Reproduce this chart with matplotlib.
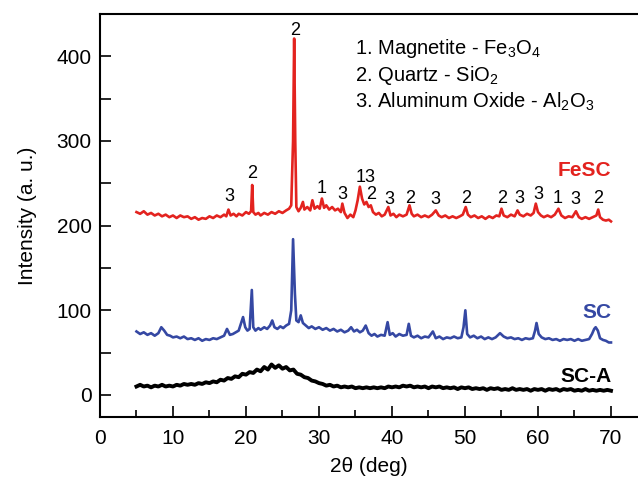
import numpy as np
import matplotlib
matplotlib.use('Agg')
from matplotlib import pyplot as plt
from matplotlib.ticker import MultipleLocator

plt.rcParams['font.family'] = ['Liberation Sans', 'DejaVu Sans']
plt.rcParams['mathtext.fontset'] = 'custom'
plt.rcParams['mathtext.rm'] = 'Liberation Sans'
plt.rcParams['mathtext.it'] = 'Liberation Sans'

## FeSC pattern (red)
fesc_x = [5.0, 5.5, 6.0, 6.5, 7.0, 7.5, 8.0, 8.5, 9.0, 9.5, 10.0, 10.5, 11.0, 11.5, 12.0, 12.5,
          13.0, 13.5, 14.0, 14.5, 15.0, 15.5, 16.0, 16.5, 17.0, 17.3, 17.6, 17.9, 18.3, 18.7, 19.0,
          19.5, 20.0, 20.4, 20.7, 20.85, 21.0, 21.3, 21.7, 22.0, 22.5, 23.0, 23.5, 24.0, 24.5, 25.0,
          25.5, 25.9, 26.2, 26.45, 26.6, 26.75, 26.9, 27.2, 27.5, 27.8, 28.0, 28.4, 28.8, 29.1, 29.4,
          29.8, 30.1, 30.4, 30.7, 31.0, 31.4, 31.8, 32.2, 32.6, 33.0, 33.2, 33.5, 33.9, 34.3, 34.7,
          35.0, 35.3, 35.6, 35.9, 36.2, 36.5, 36.8, 37.1, 37.4, 37.8, 38.2, 38.6, 39.0, 39.5, 39.8,
          40.2, 40.6, 41.0, 41.5, 42.0, 42.4, 42.7, 43.0, 43.5, 44.0, 44.5, 45.0, 45.5, 46.0, 46.4,
          46.8, 47.3, 47.8, 48.3, 48.8, 49.3, 49.7, 50.1, 50.4, 50.8, 51.3, 51.8, 52.3, 52.8, 53.3,
          53.8, 54.3, 54.7, 55.0, 55.3, 55.8, 56.3, 56.8, 57.2, 57.5, 58.0, 58.5, 59.0, 59.4, 59.7,
          60.0, 60.4, 60.8, 61.3, 61.8, 62.3, 62.8, 63.2, 63.7, 64.2, 64.7, 65.2, 65.6, 66.0, 66.5,
          67.0, 67.5, 68.0, 68.25, 68.5, 68.9, 69.3, 69.7, 70.0]
fesc_y = [216, 214, 217, 213, 215, 212, 214, 211, 213, 210, 212, 209, 212, 210, 211, 208,
          210, 207, 209, 208, 211, 209, 212, 210, 213, 211, 219, 212, 214, 211, 214,
          212, 216, 214, 217, 248, 216, 213, 215, 212, 215, 213, 216, 214, 217, 215,
          218, 220, 224, 300, 421, 300, 222, 217, 221, 228, 219, 222, 218, 230, 220,
          223, 220, 232, 221, 224, 219, 222, 218, 220, 216, 226, 215, 209, 213, 210,
          218, 230, 246, 232, 225, 228, 222, 224, 216, 213, 215, 211, 213, 222, 212,
          214, 210, 213, 211, 213, 224, 214, 211, 213, 210, 212, 210, 213, 218, 212,
          210, 212, 209, 211, 209, 211, 213, 222, 213, 210, 212, 209, 211, 208, 211,
          209, 212, 211, 220, 212, 210, 213, 211, 218, 213, 211, 214, 212, 215, 226,
          216, 212, 210, 212, 210, 213, 220, 212, 209, 211, 210, 217, 210, 208, 210,
          208, 210, 212, 219, 210, 207, 206, 207, 205]

## SC pattern (blue)
sc_x = [5.0, 5.5, 6.0, 6.5, 7.0, 7.5, 8.0, 8.4, 8.8, 9.2, 9.6, 10.0, 10.5, 11.0, 11.5, 12.0,
        12.5, 13.0, 13.5, 14.0, 14.5, 15.0, 15.5, 16.0, 16.5, 17.0, 17.4, 17.8, 18.2, 18.6, 19.0,
        19.3, 19.6, 19.9, 20.2, 20.5, 20.8, 21.0, 21.3, 21.7, 22.0, 22.5, 22.9, 23.3, 23.6, 23.9,
        24.3, 24.7, 25.1, 25.5, 25.9, 26.2, 26.45, 26.7, 26.9, 27.2, 27.5, 27.8, 28.2, 28.6, 29.0,
        29.5, 30.0, 30.5, 31.0, 31.5, 32.0, 32.5, 33.0, 33.5, 34.0, 34.4, 34.8, 35.2, 35.6, 36.0,
        36.4, 36.8, 37.2, 37.6, 38.0, 38.5, 39.0, 39.4, 39.7, 40.1, 40.5, 41.0, 41.5, 42.0, 42.3,
        42.6, 43.0, 43.5, 44.0, 44.5, 45.0, 45.6, 46.0, 46.5, 47.0, 47.5, 48.0, 48.5, 49.0, 49.5,
        49.8, 50.05, 50.3, 50.7, 51.2, 51.7, 52.2, 52.7, 53.2, 53.7, 54.2, 54.8, 55.3, 55.8, 56.3,
        56.8, 57.3, 57.8, 58.3, 58.8, 59.3, 59.6, 59.8, 60.1, 60.5, 61.0, 61.5, 62.0, 62.5, 63.0,
        63.5, 64.0, 64.5, 65.0, 65.5, 66.0, 66.5, 67.0, 67.4, 67.7, 67.9, 68.2, 68.5, 68.9, 69.3,
        69.7, 70.0]
sc_y = [75, 72, 74, 71, 73, 70, 73, 80, 76, 71, 70, 68, 69, 67, 69, 66,
        67, 65, 67, 64, 66, 65, 67, 66, 68, 70, 78, 71, 72, 74, 76,
        84, 92, 80, 76, 78, 124, 80, 76, 79, 77, 80, 78, 82, 88, 80,
        78, 81, 79, 82, 84, 100, 184, 120, 88, 86, 94, 85, 82, 79, 81,
        78, 80, 77, 79, 76, 78, 75, 77, 74, 76, 80, 75, 77, 74, 76,
        82, 73, 70, 72, 69, 71, 70, 86, 71, 73, 69, 72, 70, 71, 84,
        70, 68, 70, 67, 69, 68, 75, 67, 69, 66, 68, 67, 69, 67, 68,
        80, 100, 72, 68, 70, 67, 69, 66, 68, 66, 68, 73, 69, 67, 68,
        66, 67, 65, 67, 66, 67, 76, 85, 72, 68, 66, 67, 65, 66, 64,
        66, 65, 66, 64, 66, 64, 65, 66, 72, 78, 80, 76, 67, 65, 64,
        62, 62]

## SC-A pattern (black), amorphous hump
sca_x = [5.0 + 0.5 * i for i in range(131)]
sca_y = [10, 12, 10, 11, 9, 11, 10, 12, 10, 11, 10, 12, 11, 13, 12, 13,
         12, 14, 13, 15, 14, 16, 15, 18, 17, 20, 19, 22, 21, 25, 24, 27,
         26, 30, 28, 33, 30, 36, 32, 35, 31, 33, 29, 30, 25, 24, 21, 20,
         17, 16, 14, 13, 11, 12, 10, 11, 9, 10, 9, 10, 8, 9, 8, 9,
         8, 9, 8, 9, 8, 10, 9, 10, 9, 11, 10, 11, 9, 10, 9, 10,
         8, 10, 9, 10, 8, 9, 8, 9, 7, 9, 8, 9, 7, 8, 7, 8,
         6, 8, 7, 8, 6, 7, 6, 8, 6, 7, 6, 7, 5, 7, 6, 7,
         5, 7, 6, 7, 5, 7, 6, 7, 5, 6, 5, 7, 5, 6, 5, 6,
         5, 6, 5]

## Peak phase labels
peak_txt = ['2', '3', '2', '1', '3', '13', '2', '3', '2', '3', '2', '2', '3', '3', '1', '3', '2']
peak_pos = [26.8, 17.7, 20.9, 30.4, 33.2, 36.4, 37.1, 39.7, 42.5, 46.0, 50.1, 55.1, 57.4,
            60.0, 62.7, 65.1, 68.3]
peak_h = [431, 234, 261, 244, 237, 257, 237, 231, 232, 231, 232, 232, 232, 237, 232, 231, 232]

phases = ['1. Magnetite - Fe$_3$O$_4$', '2. Quartz - SiO$_2$', '3. Aluminum Oxide - Al$_2$O$_3$']

red = '#e3231f'
blue = '#3548a3'

fig = plt.figure(figsize=(6.38, 4.82), dpi=100)
ax = fig.add_axes([0.1567, 0.1349, 0.8433, 0.8361])

ax.plot(fesc_x, fesc_y, color=red, lw=1.9)
ax.plot(sc_x, sc_y, color=blue, lw=1.9)
ax.plot(sca_x, sca_y, color='black', lw=2.8)

for t, px, py in zip(peak_txt, peak_pos, peak_h):
    ax.text(px, py, t, ha='center', va='center', fontsize=13)

for i, s in enumerate(phases):
    ax.text(34.9, 409 - i * 31.5, s, ha='left', va='center', fontsize=14.5)

ax.text(70.1, 265, 'FeSC', color=red, fontsize=15, fontweight='bold', ha='right', va='center')
ax.text(70.1, 97, 'SC', color=blue, fontsize=15, fontweight='bold', ha='right', va='center')
ax.text(70.1, 22, 'SC-A', color='black', fontsize=15, fontweight='bold', ha='right', va='center')

ax.set_xlim(0, 73.7)
ax.set_ylim(-26, 450)
ax.xaxis.set_major_locator(MultipleLocator(10))
ax.xaxis.set_minor_locator(MultipleLocator(5))
ax.set_yticks([0, 100, 200, 300, 400])
ax.yaxis.set_minor_locator(MultipleLocator(50))
ax.tick_params(which='both', direction='in', labelsize=15, width=1.2)
ax.tick_params(which='major', length=8)
ax.tick_params(axis='x', which='major', pad=9)
ax.tick_params(axis='y', which='major', pad=6)
ax.tick_params(axis='x', which='minor', length=5)
ax.tick_params(axis='y', which='minor', length=8)
ax.spines['right'].set_visible(False)
for sp in ['left', 'top', 'bottom']:
    ax.spines[sp].set_linewidth(1.5)

ax.set_xlabel('2θ (deg)', fontsize=15, labelpad=6)
ax.set_ylabel('Intensity (a. u.)', fontsize=15, labelpad=14)

fig.savefig('out.png', dpi=100)
